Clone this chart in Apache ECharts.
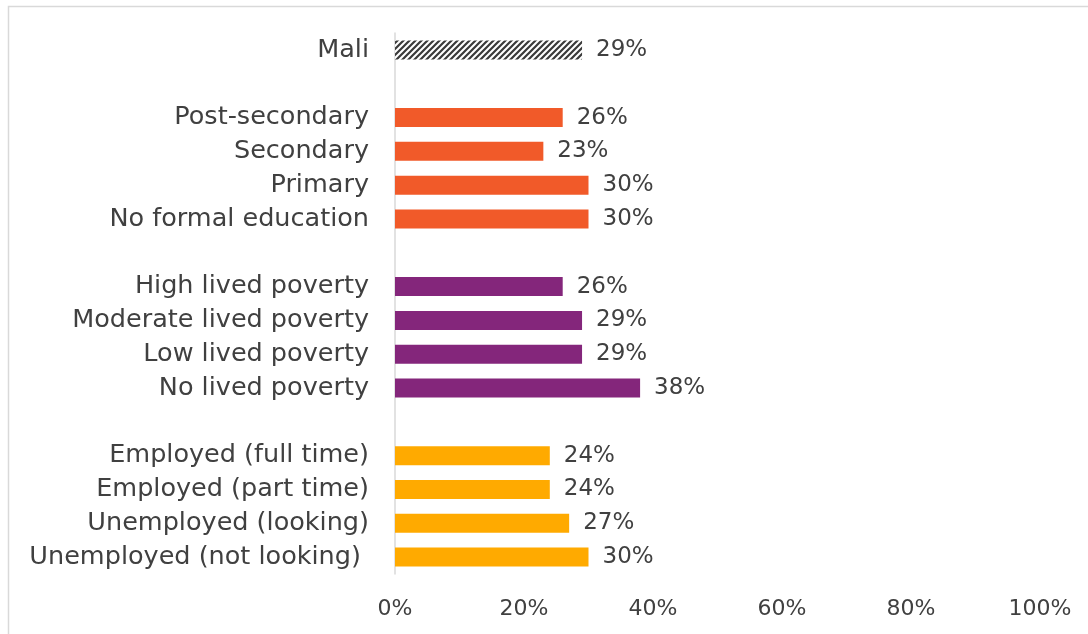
<!DOCTYPE html>
<html>
<head>
<meta charset="utf-8">
<script src="https://cdn.jsdelivr.net/npm/echarts@6/dist/echarts.min.js"></script>
<style>
  html, body { margin: 0; padding: 0; background: #ffffff; }
  #chart { width: 1088px; height: 634px; }
</style>
</head>
<body>
<div id="chart"></div>
<script>
// Category rows, top to bottom; blank entries separate the groups
const categories = [
  'Mali', ' ',
  'Post-secondary', 'Secondary', 'Primary', 'No formal education', '  ',
  'High lived poverty', 'Moderate lived poverty', 'Low lived poverty', 'No lived poverty', '   ',
  'Employed (full time)', 'Employed (part time)', 'Unemployed (looking)', 'Unemployed (not looking) '
];
const overallValues = [29];
const educationValues = [26, 23, 30, 30];
const povertyValues = [26, 29, 29, 38];
const employmentValues = [24, 24, 27, 30];
const xTicks = [0, 20, 40, 60, 80, 100];

const colors = {
  education: '#F15A29',
  poverty: '#84267B',
  employment: '#FFAA00'
};

// Diagonal hatch used for the national bar
function hatchPattern() {
  const c = document.createElement('canvas');
  const s = 6;
  c.width = s; c.height = s;
  const g = c.getContext('2d');
  g.fillStyle = '#ffffff';
  g.fillRect(0, 0, s, s);
  g.strokeStyle = '#3a3a3a';
  g.lineWidth = 2.2;
  g.beginPath();
  g.moveTo(0, s); g.lineTo(s, 0);
  g.moveTo(-s, s); g.lineTo(s, -s);
  g.moveTo(0, 2 * s); g.lineTo(2 * s, 0);
  g.stroke();
  return { image: c, repeat: 'repeat' };
}

function group(values, color) {
  return values.map(v => ({ value: v, itemStyle: { color: color } }));
}

const barData = []
  .concat([{ value: overallValues[0], itemStyle: { color: hatchPattern() } }])
  .concat([null])
  .concat(group(educationValues, colors.education))
  .concat([null])
  .concat(group(povertyValues, colors.poverty))
  .concat([null])
  .concat(group(employmentValues, colors.employment));

const textColor = '#404040';
const font = 'DejaVu Sans';

const chart = echarts.init(document.getElementById('chart'), null, { renderer: 'canvas' });
chart.setOption({
  animation: false,
  backgroundColor: '#ffffff',
  graphic: [{
    type: 'rect',
    left: 6, top: 4,
    shape: { width: 1200, height: 800 },
    style: { fill: 'none', stroke: '#d9d9d9', lineWidth: 1.5 },
    silent: true
  }],
  grid: { left: 395, right: 48, top: 33, bottom: 60, containLabel: false },
  xAxis: {
    type: 'value',
    min: xTicks[0],
    max: xTicks[xTicks.length - 1],
    interval: xTicks[1] - xTicks[0],
    axisLine: { show: false },
    axisTick: { show: false },
    splitLine: { show: false },
    axisLabel: {
      formatter: '{value}%',
      color: textColor,
      fontFamily: font,
      fontSize: 22,
      margin: 24
    }
  },
  yAxis: {
    type: 'category',
    data: categories,
    inverse: true,
    axisLine: { show: true, lineStyle: { color: '#d9d9d9', width: 1.5 } },
    axisTick: { show: false },
    splitLine: { show: false },
    axisLabel: {
      color: textColor,
      fontFamily: font,
      fontSize: 25.5,
      margin: 26,
      interval: 0
    }
  },
  series: [{
    type: 'bar',
    data: barData,
    barWidth: 19,
    label: {
      show: true,
      position: 'right',
      distance: 14,
      formatter: '{c}%',
      color: textColor,
      fontFamily: font,
      fontSize: 23
    }
  }]
});
</script>
</body>
</html>
